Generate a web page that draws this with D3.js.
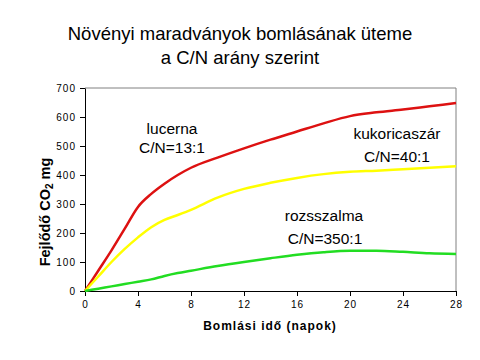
<!DOCTYPE html>
<html><head><meta charset="utf-8">
<script src="https://cdn.jsdelivr.net/npm/d3@7"></script>
<style>body{margin:0;background:#fff}svg{display:block}text{font-family:"Liberation Sans",Arial,sans-serif}</style>
</head><body>
<svg id="c" width="480" height="360"></svg>
<script>
const days = [0,1,2,3,4,5,6,7,8,10,12,14,16,18,20,22,24,26,28];
const lucerna = [0,70,140,215,290,335,370,400,425,460,492,522,550,578,603,616,626,637,648];
const kukoricaszar = [0,50,100,145,185,220,245,262,280,322,352,373,390,403,411,415,420,425,430];
const rozsszalma = [0,8,16,24,32,40,52,62,70,86,100,113,125,134,139,139,135,130,128];
const xTicks = [0,4,8,12,16,20,24,28];
const yTicks = [0,100,200,300,400,500,600,700];

const svg = d3.select("#c");
const L=85,R=456,T=88,B=291;
const x = d3.scaleLinear().domain([0,28]).range([L,R]);
const y = d3.scaleLinear().domain([0,700]).range([B,T]);

svg.append("text").attr("x",240).attr("y",40).attr("text-anchor","middle").attr("font-size",18.5).text("Növényi maradványok bomlásának üteme");
svg.append("text").attr("x",240).attr("y",64).attr("text-anchor","middle").attr("font-size",18.5).text("a C/N arány szerint");

// frame
svg.append("path").attr("d",`M${L},${T}H${R}V${B}`).attr("fill","none").attr("stroke","#808080").attr("stroke-width",1);

const xa = svg.append("g").attr("transform",`translate(0,${B})`).call(d3.axisBottom(x).tickValues(xTicks).tickSize(5).tickPadding(5).tickSizeOuter(0));
const ya = svg.append("g").attr("transform",`translate(${L},0)`).call(d3.axisLeft(y).tickValues(yTicks).tickSize(5).tickPadding(4).tickSizeOuter(0));
[xa,ya].forEach(a=>{a.select(".domain").attr("stroke","#000");a.selectAll("line").attr("stroke","#000");
  a.selectAll("text").attr("font-family","Liberation Sans, Arial, sans-serif").attr("font-size",10).attr("letter-spacing",1).attr("fill","#000");});

const series = [[lucerna,"#dd1111"],[kukoricaszar,"#ffff00"],[rozsszalma,"#22dd22"]];
const line = d3.line().x((d,i)=>x(days[i])).y(d=>y(d)).curve(d3.curveMonotoneX);
series.forEach(([s,c])=>svg.append("path").datum(s).attr("d",line).attr("fill","none").attr("stroke",c).attr("stroke-width",2.5));

const ann = [["lucerna",172,134],["C/N=13:1",172,153],["kukoricaszár",397,139],["C/N=40:1",397,162],["rozsszalma",324,221],["C/N=350:1",325,244]];
ann.forEach(([t,ax,ay])=>svg.append("text").attr("x",ax).attr("y",ay).attr("text-anchor","middle").attr("font-size",15.5).text(t));

svg.append("text").attr("x",270).attr("y",330).attr("text-anchor","middle").attr("font-size",12).attr("font-weight","bold").attr("letter-spacing",1).text("Bomlási idő (napok)");
const yl = svg.append("text").attr("transform","translate(50,212) rotate(-90)").attr("text-anchor","middle").attr("font-size",14.5).attr("font-weight","bold");
yl.append("tspan").text("Fejlődő CO");
yl.append("tspan").attr("font-size",10).attr("dy",3).text("2");
yl.append("tspan").attr("dy",-3).text(" mg");
</script>
</body></html>
